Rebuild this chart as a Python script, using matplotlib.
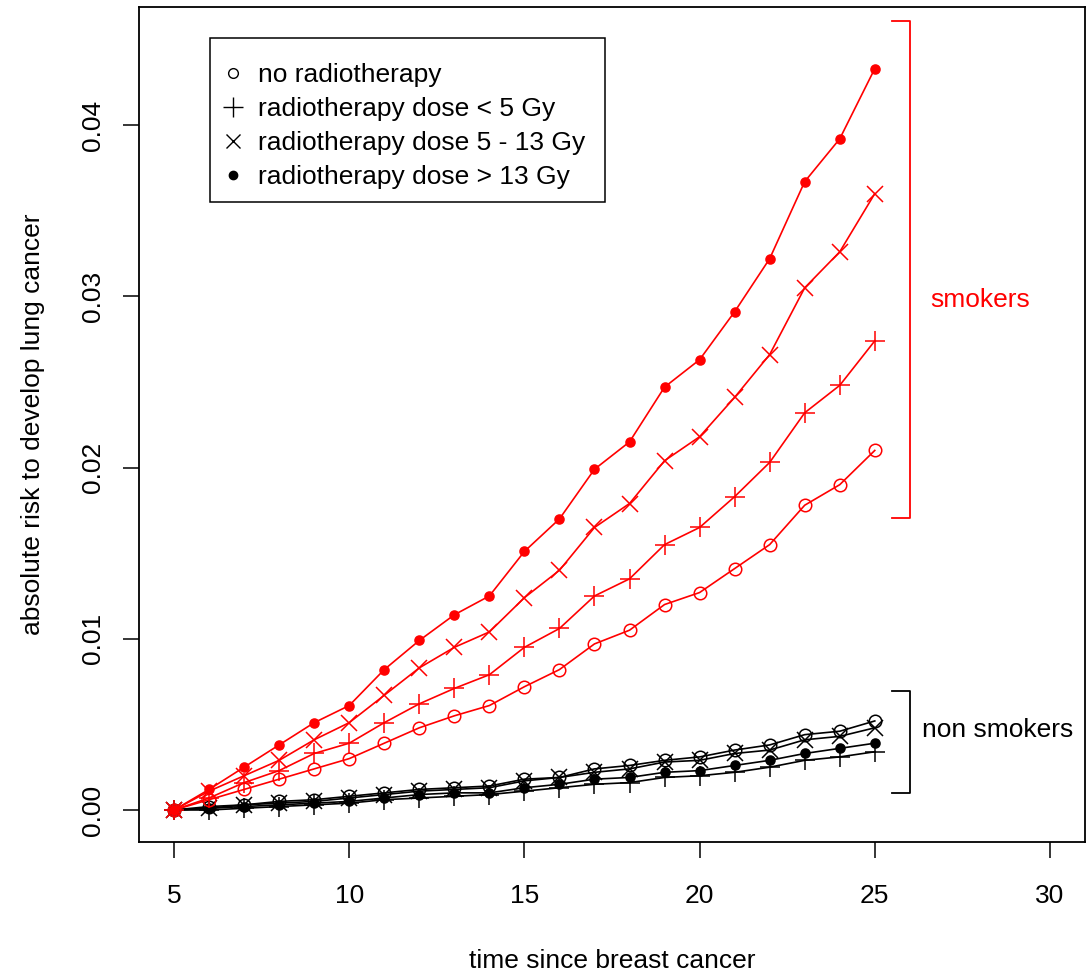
import matplotlib
matplotlib.use("Agg")
import matplotlib.pyplot as plt
from matplotlib.lines import Line2D
from matplotlib.patches import Rectangle

plt.rcParams['font.family'] = ['Liberation Sans', 'DejaVu Sans']

years = list(range(5, 26))

# smokers (red)
smk_none = [0, 0.0006, 0.0012, 0.0018, 0.0024, 0.0030, 0.0039, 0.0048, 0.0055, 0.0061,
            0.0072, 0.0082, 0.0097, 0.0105, 0.0120, 0.0127, 0.0141, 0.0155, 0.0178, 0.0190, 0.0210]
smk_lt5 = [0, 0.0007, 0.0016, 0.0023, 0.0033, 0.0039, 0.0051, 0.0062, 0.0071, 0.0079,
           0.0095, 0.0106, 0.0125, 0.0135, 0.0155, 0.0165, 0.0183, 0.0203, 0.0232, 0.0248, 0.0274]
smk_5_13 = [0, 0.0011, 0.0020, 0.0029, 0.0041, 0.0051, 0.0067, 0.0083, 0.0095, 0.0104,
            0.0124, 0.0140, 0.0165, 0.0179, 0.0204, 0.0218, 0.0241, 0.0266, 0.0305, 0.0326, 0.0360]
smk_gt13 = [0, 0.0012, 0.0025, 0.0038, 0.0051, 0.0061, 0.0082, 0.0099, 0.0114, 0.0125,
            0.0151, 0.0170, 0.0199, 0.0215, 0.0247, 0.0263, 0.0291, 0.0322, 0.0367, 0.0392, 0.0433]

# non smokers (black)
non_none = [0, 0.0002, 0.0003, 0.0005, 0.0006, 0.0008, 0.0010, 0.0012, 0.0013, 0.0014,
            0.0018, 0.0019, 0.0024, 0.0026, 0.0029, 0.0031, 0.0035, 0.0038, 0.0044, 0.0046, 0.0052]
non_lt5 = [0, 0.0000, 0.0001, 0.0002, 0.0003, 0.0004, 0.0006, 0.0007, 0.0008, 0.0009,
           0.0011, 0.0013, 0.0015, 0.0016, 0.0019, 0.0020, 0.0022, 0.0025, 0.0029, 0.0031, 0.0034]
non_5_13 = [0, 0.0001, 0.0003, 0.0004, 0.0005, 0.0007, 0.0009, 0.0011, 0.0012, 0.0013,
            0.0017, 0.0019, 0.0022, 0.0024, 0.0028, 0.0029, 0.0033, 0.0035, 0.0041, 0.0043, 0.0048]
non_gt13 = [0, 0.0001, 0.0002, 0.0003, 0.0004, 0.0005, 0.0007, 0.0009, 0.0010, 0.0010,
            0.0013, 0.0015, 0.0018, 0.0019, 0.0022, 0.0023, 0.0026, 0.0029, 0.0033, 0.0036, 0.0039]

labels = ["no radiotherapy", "radiotherapy dose < 5 Gy",
          "radiotherapy dose 5 - 13 Gy", "radiotherapy dose > 13 Gy"]

FS = 19

fig = plt.figure(figsize=(10.88, 9.72), dpi=100)
ax = fig.add_axes([139/1088, 1 - 842/972, (1085-139)/1088, (842-7)/972])

styles = [dict(marker='o', mfc='none', ms=9, mew=1.1),
          dict(marker='+', ms=14, mew=1.1),
          dict(marker='x', ms=11, mew=1.1),
          dict(marker='o', ms=6.5, mew=1.1)]

for ser, st in zip([non_none, non_lt5, non_5_13, non_gt13], styles):
    ax.plot(years, ser, color='black', lw=1.2, **st)
for ser, st in zip([smk_none, smk_lt5, smk_5_13, smk_gt13], styles):
    ax.plot(years, ser, color='red', lw=1.2, **st)

ax.set_xlim(4, 31)
ax.set_ylim(-0.00187, 0.0469)
ax.set_xticks([5, 10, 15, 20, 25, 30])
ax.set_yticks([0.0, 0.01, 0.02, 0.03, 0.04])
ax.set_yticklabels(["0.00", "0.01", "0.02", "0.03", "0.04"], rotation=90, va='center')
ax.tick_params(direction='out', length=11.5, width=1.1, labelsize=FS)
ax.tick_params(axis='x', pad=19)
ax.tick_params(axis='y', pad=13)
for sp in ax.spines.values():
    sp.set_linewidth(1.3)

ax.set_xlabel("time since breast cancer", fontsize=FS, labelpad=29)
ax.set_ylabel("absolute risk to develop lung cancer", fontsize=FS, labelpad=26)

# brackets
ax.plot([25.5, 26.0, 26.0, 25.5], [0.0461, 0.0461, 0.01705, 0.01705], color='red', lw=1.3, clip_on=False)
ax.plot([25.5, 26.0, 26.0, 25.5], [0.00695, 0.00695, 0.0010, 0.0010], color='black', lw=1.3, clip_on=False)
ax.text(28.0, 0.0298, "smokers", color='red', fontsize=FS, ha='center', va='center')
ax.text(28.5, 0.00467, "non smokers", color='black', fontsize=FS, ha='center', va='center')

# legend frame (axes coordinates)
x0, x1 = (210-139)/946, (605-139)/946
y1, y0 = (842-38)/835, (842-202)/835
ax.add_patch(Rectangle((x0, y0), x1-x0, y1-y0, transform=ax.transAxes,
                       fill=True, facecolor='white', edgecolor='black', lw=1.1, zorder=4))

handles = [Line2D([], [], color='black', linestyle='none', marker='o', mfc='none', ms=7, mew=1.0),
           Line2D([], [], color='black', linestyle='none', marker='+', ms=14, mew=1.0),
           Line2D([], [], color='black', linestyle='none', marker='x', ms=10, mew=1.0),
           Line2D([], [], color='black', linestyle='none', marker='o', ms=6, mew=1.0)]
leg = ax.legend(handles, labels, loc='upper left', bbox_to_anchor=((223-139)/946, (842-63)/835),
                fontsize=FS, frameon=False,
                handlelength=0.75, handletextpad=0.57, labelspacing=0.38,
                borderpad=0, borderaxespad=0)
leg.set_zorder(5)

fig.savefig("out.png", dpi=100)
